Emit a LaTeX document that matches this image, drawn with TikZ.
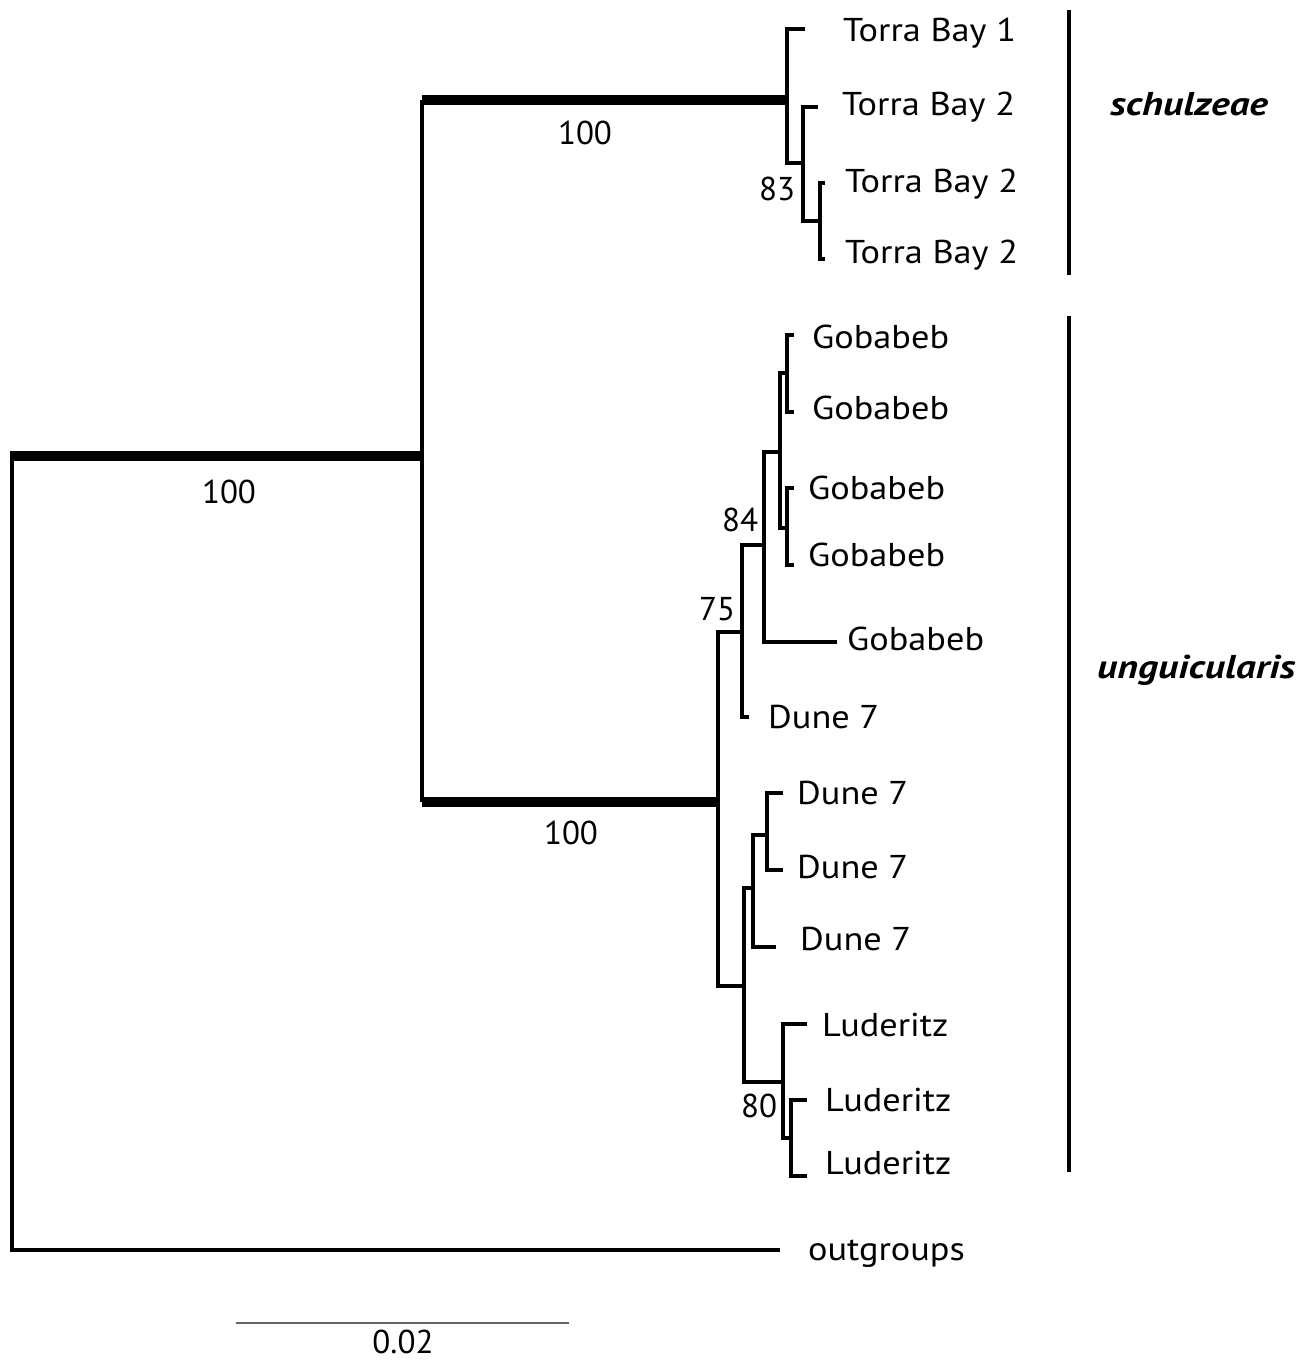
\documentclass[tikz,border=0pt]{standalone}
\usepackage{fontspec}
\setmainfont{PT Sans}
\newfontfamily\tiplabfont[FakeStretch=1.1]{PT Sans}
\newfontfamily\taxonfont[FakeStretch=1.2]{PT Sans}
\begin{document}
\begin{tikzpicture}[x=1pt,y=-1pt,
  br/.style={line width=3.2pt, line join=miter},
  thk/.style={line width=10pt},
  lab/.style={anchor=west, inner sep=0pt, text height=23pt, text depth=0pt, font=\fontsize{33}{36}\tiplabfont},
  bootval/.style={anchor=center, inner sep=0pt, text height=23pt, text depth=0pt, font=\fontsize{33}{36}\selectfont},
  taxon/.style={anchor=base west, inner sep=0pt, font=\fontsize{33}{36}\taxonfont\bfseries\itshape},
  cladebar/.style={line width=4.5pt},
  scalebar/.style={line width=2.5pt, draw=black!60}]
\useasboundingbox (0,0) rectangle (1311,1360);
% internal nodes
\coordinate (R) at (12,456);
\coordinate (A) at (422,456);
\coordinate (S) at (787,100);
\coordinate (S2) at (803,163);
\coordinate (S3) at (820,221);
\coordinate (U) at (718,802);
\coordinate (G0) at (742,632);
\coordinate (G1) at (764,545);
\coordinate (G2) at (780,452);
\coordinate (Ga) at (787,373);
\coordinate (Gb) at (787,528);
\coordinate (D) at (744,986);
\coordinate (Dn) at (753,888);
\coordinate (Dm) at (767,835);
\coordinate (L) at (783,1082);
\coordinate (L2) at (791,1138);
% tips
\coordinate (t1) at (805,29);
\coordinate (t2) at (818,107);
\coordinate (t3) at (825,183);
\coordinate (t4) at (825,259);
\coordinate (g1) at (794,335);
\coordinate (g2) at (794,412);
\coordinate (g3) at (794,488);
\coordinate (g4) at (794,565);
\coordinate (g5) at (837,642);
\coordinate (d1) at (749,717);
\coordinate (d2) at (783,793);
\coordinate (d3) at (783,870);
\coordinate (d4) at (776,947);
\coordinate (l1) at (807,1024);
\coordinate (l2) at (807,1100);
\coordinate (l3) at (807,1176);
\coordinate (og) at (780,1250);
% branches
\draw[thk] ([xshift=-1.6pt]R) -- ([xshift=1.6pt]A);
\draw[br] (R) |- (og);
\draw[br] (A) -- (A |- S);
\draw[br] (A) -- (A |- U);
\draw[thk] (A |- S) -- (S);
\draw[thk] (A |- U) -- (U);
\draw[br] (S) |- (t1);
\draw[br] (S) |- (S2);
\draw[br] (S2) |- (t2);
\draw[br] (S2) |- (S3);
\draw[br] (S3) |- (t3);
\draw[br] (S3) |- (t4);
\draw[br] (U) |- (G0);
\draw[br] (U) |- (D);
\draw[br] (G0) |- (G1);
\draw[br] (G0) |- (d1);
\draw[br] (G1) |- (G2);
\draw[br] (G1) |- (g5);
\draw[br] (G2) |- (Ga);
\draw[br] (G2) |- (Gb);
\draw[br] (Ga) |- (g1);
\draw[br] (Ga) |- (g2);
\draw[br] (Gb) |- (g3);
\draw[br] (Gb) |- (g4);
\draw[br] (D) |- (Dn);
\draw[br] (D) |- (L);
\draw[br] (Dn) |- (Dm);
\draw[br] (Dn) |- (d4);
\draw[br] (Dm) |- (d2);
\draw[br] (Dm) |- (d3);
\draw[br] (L) |- (l1);
\draw[br] (L) |- (L2);
\draw[br] (L2) |- (l2);
\draw[br] (L2) |- (l3);
% tip labels
\node[lab] (nt1) at (843,30) {Torra Bay 1};
\node[lab] (nt2) at (842,104) {Torra Bay 2};
\node[lab] (nt3) at (845,181) {Torra Bay 2};
\node[lab] (nt4) at (845,252) {Torra Bay 2};
\node[lab] (ng1) at (812,337) {Gobabeb};
\node[lab] (ng2) at (812,408) {Gobabeb};
\node[lab] (ng3) at (808,488) {Gobabeb};
\node[lab] (ng4) at (808,555) {Gobabeb};
\node[lab] (ng5) at (847,639) {Gobabeb};
\node[lab] (nd1) at (768,717) {Dune 7};
\node[lab] (nd2) at (797,793) {Dune 7};
\node[lab] (nd3) at (797,867) {Dune 7};
\node[lab] (nd4) at (800,939) {Dune 7};
\node[lab] (nl1) at (822,1025) {Luderitz};
\node[lab] (nl2) at (825,1100) {Luderitz};
\node[lab] (nl3) at (825,1163) {Luderitz};
\node[lab] (nog) at (808,1249) {outgroups};
% support values
\node[bootval] (b1) at (229,492) {100};
\node[bootval] (b2) at (585,133) {100};
\node[bootval] (b3) at (571,833) {100};
\node[bootval] (b4) at (777,189) {83};
\node[bootval] (b5) at (740,520) {84};
\node[bootval] (b6) at (717,609) {75};
\node[bootval] (b7) at (759,1106) {80};
% clade bars
\coordinate (c1a) at (1069,10);
\coordinate (c1b) at (1069,275);
\coordinate (c2a) at (1069,316);
\coordinate (c2b) at (1069,1172);
\draw[cladebar] (c1a) -- (c1b);
\draw[cladebar] (c2a) -- (c2b);
\node[taxon] (sch) at (1110,115) {schulzeae};
\node[taxon] (ung) at (1097,678) {unguicularis};
% scale bar
\coordinate (sb1) at (236,1323);
\coordinate (sb2) at (569,1323);
\draw[scalebar] (sb1) -- (sb2);
\node[bootval] (sbl) at (403,1342) {0.02};
\end{tikzpicture}
\end{document}
